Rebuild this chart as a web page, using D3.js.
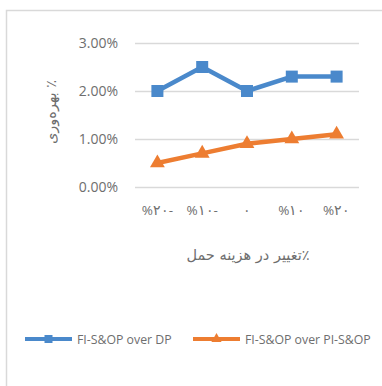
<!DOCTYPE html>
<html><head><meta charset="utf-8">
<script src="https://cdn.jsdelivr.net/npm/d3@7"></script>
<style>body{margin:0;background:#fff}svg{display:block}</style>
</head><body>
<script>
const categories = ["%۲۰-", "%۱۰-", "۰", "%۱۰", "%۲۰"];
const seriesNames = ["FI-S&OP over DP", "FI-S&OP over PI-S&OP"];
const seriesDP = [0.020, 0.025, 0.020, 0.023, 0.023];
const seriesPI = [0.005, 0.007, 0.009, 0.010, 0.011];
const yTicks = [0, 0.01, 0.02, 0.03];
const xTitle = "٪تغییر در هزینه حمل";
const yTitle = "٪ بهره‌وری";
const colors = ["#4a89cb", "#ed7d31"];

const W = 382, H = 386;
const svg = d3.select("body").append("svg").attr("width", W).attr("height", H);
svg.append("rect").attr("width", W).attr("height", H).attr("fill", "#fff");
svg.append("rect").attr("x", 6.5).attr("y", 10.5).attr("width", 380).attr("height", 390)
  .attr("fill", "none").attr("stroke", "#d9d9d9").attr("stroke-width", 1.5);

const x = d3.scaleBand().domain(categories).range([135, 359]);
const y = d3.scaleLinear().domain([0, 0.03]).range([187, 43]);
const font = "'Open Sans', 'Liberation Sans', sans-serif";
const grey = "#6e6e6e";

// gridlines
svg.append("g").selectAll("line").data(yTicks).join("line")
  .attr("x1", 135).attr("x2", 359)
  .attr("y1", d => Math.round(y(d)) + 0.5).attr("y2", d => Math.round(y(d)) + 0.5)
  .attr("stroke", "#d9d9d9").attr("stroke-width", 1.5);

// y axis
const yAxis = svg.append("g").attr("transform", "translate(127,0)")
  .call(d3.axisLeft(y).tickValues(yTicks).tickFormat(d3.format(".2%")).tickSize(0).tickPadding(0));
yAxis.select(".domain").remove();
yAxis.selectAll("text").attr("font-family", font).attr("font-size", 14).attr("fill", grey).attr("x", -9);

// x axis
const xAxis = svg.append("g").attr("transform", "translate(0,205)")
  .call(d3.axisBottom(x).tickSize(0).tickPadding(0));
xAxis.select(".domain").remove();
xAxis.selectAll("text").attr("font-family", font).attr("font-size", 13.5).attr("fill", grey);

// titles
svg.append("text").attr("x", 248).attr("y", 260).attr("text-anchor", "middle")
  .attr("direction", "rtl").attr("font-family", "'DejaVu Sans', sans-serif").attr("font-size", 14.5)
  .attr("fill", grey).text(xTitle);
svg.append("text").attr("transform", "translate(56,112) rotate(-90)").attr("text-anchor", "middle")
  .attr("direction", "rtl").attr("font-family", "'DejaVu Sans', sans-serif").attr("font-size", 14.5)
  .attr("fill", grey).text(yTitle);

const cx = d => x(d) + x.bandwidth() / 2;
const line = d3.line().x((d, i) => cx(categories[i])).y(d => y(d));

const data = [seriesDP, seriesPI];
data.forEach((s, k) => {
  svg.append("path").datum(s).attr("d", line).attr("fill", "none")
    .attr("stroke", colors[k]).attr("stroke-width", 4.5).attr("stroke-linejoin", "round");
});
// markers
svg.append("g").selectAll("rect").data(seriesDP).join("rect")
  .attr("x", (d, i) => cx(categories[i]) - 6).attr("y", d => y(d) - 6)
  .attr("width", 12).attr("height", 12).attr("fill", colors[0]);
const tri = d3.symbol().type(d3.symbolTriangle).size(95);
svg.append("g").selectAll("path").data(seriesPI).join("path")
  .attr("transform", (d, i) => `translate(${cx(categories[i])},${y(d)})`)
  .attr("d", tri).attr("fill", colors[1]);

// legend
const leg = [{x0: 25, name: seriesNames[0], c: colors[0], m: "sq"}, {x0: 193, name: seriesNames[1], c: colors[1], m: "tri"}];
const lg = svg.append("g");
leg.forEach(l => {
  lg.append("line").attr("x1", l.x0).attr("x2", l.x0 + 47).attr("y1", 339).attr("y2", 339)
    .attr("stroke", l.c).attr("stroke-width", 4);
  if (l.m === "sq") {
    lg.append("rect").attr("x", l.x0 + 23.5 - 4).attr("y", 335).attr("width", 8).attr("height", 8).attr("fill", l.c);
  } else {
    lg.append("path").attr("transform", `translate(${l.x0 + 23.5},339)`)
      .attr("d", d3.symbol().type(d3.symbolTriangle).size(45)).attr("fill", l.c);
  }
  lg.append("text").attr("x", l.x0 + 52).attr("y", 343.5).attr("font-family", font)
    .attr("font-size", 12.3).attr("fill", grey).text(l.name);
});
</script>
</body></html>
